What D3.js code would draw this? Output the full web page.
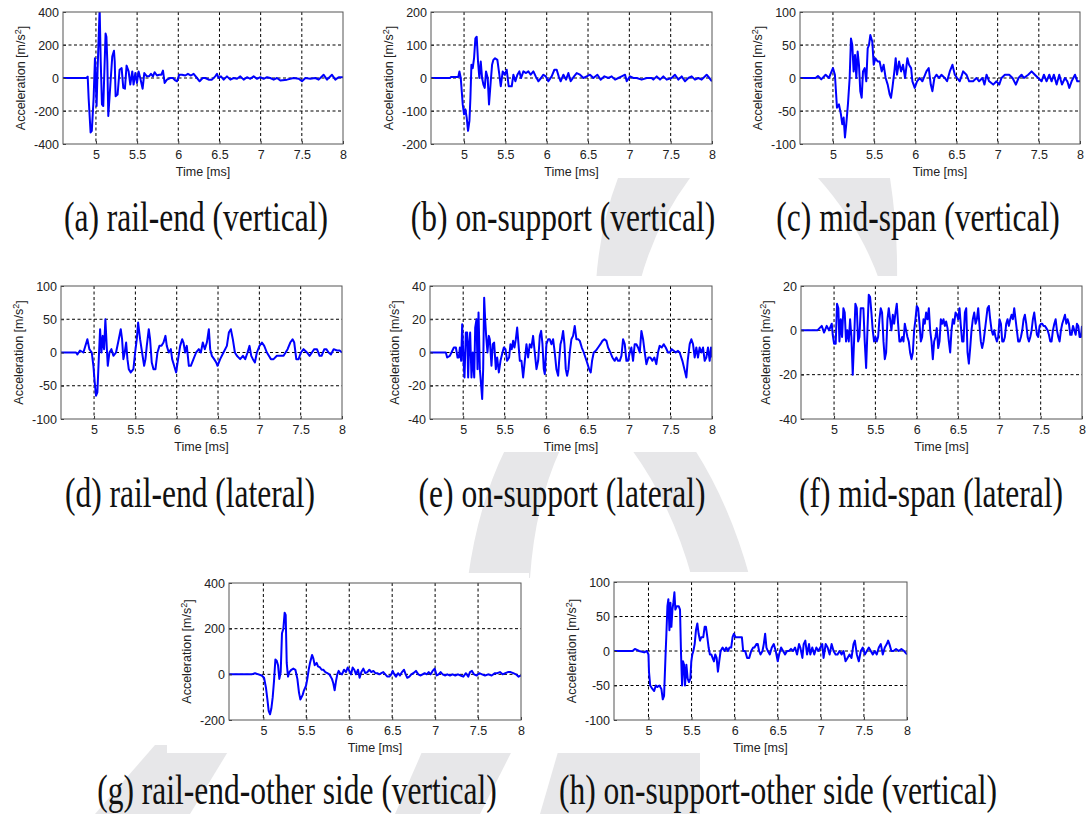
<!DOCTYPE html>
<html>
<head>
<meta charset="utf-8">
<script src="https://cdn.jsdelivr.net/npm/d3@7"></script>
<style>
  body { margin: 0; background: #fff; }
  svg { display: block; }
  .tick text { font-family: "Liberation Sans", Arial, sans-serif; font-size: 12.5px; fill: #222; }
</style>
</head>
<body>
<div id="fig"></div>
<script>
// ---- data (time in ms, acceleration in m/s^2) ----
var xDomain = [4.6, 8];
var xTicks = [5, 5.5, 6, 6.5, 7, 7.5, 8];

var captions = [
  "(a) rail-end (vertical)", "(b) on-support (vertical)", "(c) mid-span (vertical)",
  "(d) rail-end (lateral)", "(e) on-support (lateral)", "(f) mid-span (lateral)",
  "(g) rail-end-other side (vertical)", "(h) on-support-other side (vertical)"
];

var yDomains = [[-400, 400], [-200, 200], [-100, 100], [-100, 100], [-40, 40], [-40, 20], [-200, 400], [-100, 100]];
var yTickSets = [
  [-400, -200, 0, 200, 400], [-200, -100, 0, 100, 200], [-100, -50, 0, 50, 100],
  [-100, -50, 0, 50, 100], [-40, -20, 0, 20, 40], [-40, -20, 0, 20],
  [-200, 0, 200, 400], [-100, -50, 0, 50, 100]
];

var railEndV = [[4.6,0],[4.88,0],[4.9,8],[4.911,-120],[4.935,-330],[4.95,-320],[4.972,-120],[4.988,120],[4.998,-20],[5.008,-170],[5.02,50],[5.045,420],[5.058,100],[5.073,-160],[5.089,-170],[5.117,270],[5.127,250],[5.138,100],[5.15,-230],[5.174,-50],[5.198,130],[5.219,165],[5.228,100],[5.239,-110],[5.263,-100],[5.287,50],[5.312,60],[5.332,-60],[5.352,-65],[5.372,75],[5.397,40],[5.417,-40],[5.441,40],[5.457,-40],[5.478,30],[5.498,-30],[5.518,40],[5.538,0],[5.567,-65],[5.587,30],[5.619,10],[5.644,10],[5.668,25],[5.692,10],[5.713,35],[5.741,15],[5.769,20],[5.794,20],[5.814,45],[5.834,-30],[5.862,-10],[5.903,0],[5.935,0],[5.964,-15],[5.984,-20],[6.012,20],[6.045,20],[6.085,15],[6.117,25],[6.154,15],[6.186,25],[6.227,0],[6.259,-20],[6.296,0],[6.328,0],[6.368,-10],[6.409,-10],[6.449,10],[6.47,25],[6.49,0],[6.518,10],[6.551,-10],[6.591,10],[6.632,-10],[6.672,0],[6.713,-5],[6.753,10],[6.794,-10],[6.834,5],[6.875,-5],[6.915,10],[6.956,-5],[6.996,5],[7.036,-5],[7.077,5],[7.117,0],[7.158,-10],[7.198,0],[7.239,-15],[7.32,-10],[7.401,0],[7.462,-5],[7.502,-20],[7.543,0],[7.603,-5],[7.664,0],[7.704,-10],[7.765,20],[7.806,-10],[7.866,20],[7.907,-10],[7.947,5],[8.0,5]];

var onSupportV = [[4.6,0],[4.831,0],[4.84,3],[4.93,3],[4.944,20],[4.96,0],[4.984,-80],[5.0,-110],[5.016,-95],[5.032,-120],[5.048,-160],[5.065,-130],[5.077,-60],[5.089,40],[5.105,30],[5.121,60],[5.137,120],[5.153,125],[5.169,50],[5.185,0],[5.202,50],[5.218,0],[5.234,-20],[5.25,-30],[5.266,20],[5.286,0],[5.302,-80],[5.323,-10],[5.339,40],[5.355,55],[5.375,60],[5.403,55],[5.427,10],[5.444,-25],[5.468,20],[5.492,10],[5.516,25],[5.54,-25],[5.577,-25],[5.597,10],[5.621,-10],[5.645,10],[5.669,20],[5.69,0],[5.718,20],[5.75,15],[5.778,20],[5.806,10],[5.839,20],[5.867,5],[5.899,-10],[5.931,0],[5.96,10],[5.988,5],[6.02,-10],[6.06,5],[6.093,25],[6.121,25],[6.145,5],[6.169,-10],[6.202,10],[6.234,-5],[6.262,15],[6.29,-10],[6.331,5],[6.363,15],[6.403,10],[6.444,0],[6.484,5],[6.524,10],[6.565,0],[6.613,10],[6.653,-5],[6.698,5],[6.746,0],[6.786,5],[6.827,-5],[6.867,0],[6.907,5],[6.948,10],[6.968,-10],[7.008,5],[7.048,0],[7.089,0],[7.149,-5],[7.21,0],[7.27,0],[7.29,-5],[7.331,5],[7.371,-5],[7.411,5],[7.452,-5],[7.512,0],[7.552,10],[7.593,-5],[7.633,5],[7.673,-10],[7.714,0],[7.754,5],[7.794,-5],[7.835,0],[7.875,-5],[7.935,10],[7.968,0],[8.0,-10]];

var midSpanV = [[4.6,0],[4.789,0],[4.818,3],[4.858,-2],[4.911,5],[4.951,0],[5.0,15],[5.024,5],[5.049,-45],[5.073,-40],[5.097,-55],[5.113,-70],[5.13,-60],[5.146,-90],[5.162,-70],[5.182,-40],[5.203,0],[5.219,60],[5.235,50],[5.251,10],[5.268,35],[5.284,0],[5.3,40],[5.316,20],[5.332,-20],[5.349,-30],[5.365,10],[5.385,15],[5.405,-5],[5.422,45],[5.438,50],[5.454,65],[5.478,55],[5.495,20],[5.515,30],[5.543,25],[5.567,25],[5.592,10],[5.616,20],[5.64,0],[5.665,-10],[5.689,-25],[5.705,-30],[5.722,-15],[5.746,10],[5.762,30],[5.778,5],[5.803,25],[5.827,10],[5.851,20],[5.876,0],[5.904,30],[5.924,20],[5.949,15],[5.965,-5],[5.993,-15],[6.021,-5],[6.054,0],[6.086,-5],[6.135,10],[6.163,15],[6.188,-10],[6.208,-20],[6.232,0],[6.257,5],[6.289,0],[6.317,5],[6.358,0],[6.386,-5],[6.419,10],[6.451,20],[6.48,5],[6.508,0],[6.54,-5],[6.581,10],[6.621,5],[6.654,-5],[6.702,-5],[6.743,0],[6.775,-5],[6.816,0],[6.84,-10],[6.865,5],[6.897,-5],[6.946,-10],[6.986,-5],[7.019,-10],[7.047,0],[7.088,5],[7.14,5],[7.181,0],[7.221,-10],[7.254,0],[7.29,5],[7.319,0],[7.371,5],[7.412,10],[7.452,5],[7.493,0],[7.533,-5],[7.562,5],[7.594,-5],[7.627,5],[7.655,-5],[7.683,5],[7.716,-10],[7.748,5],[7.781,-10],[7.817,0],[7.846,-5],[7.87,-15],[7.898,-5],[7.939,5],[7.967,-5],[8.0,-5]];

var railEndL = [[4.6,0],[4.782,0],[4.798,-3],[4.83,3],[4.871,0],[4.919,20],[4.943,5],[4.972,0],[4.992,-20],[5.008,-45],[5.024,-65],[5.04,-60],[5.057,-10],[5.073,35],[5.089,0],[5.105,25],[5.121,5],[5.137,50],[5.153,10],[5.166,-20],[5.186,0],[5.21,5],[5.234,-5],[5.266,0],[5.299,20],[5.323,35],[5.339,20],[5.355,-10],[5.371,0],[5.388,15],[5.404,-10],[5.42,-25],[5.444,-30],[5.476,-25],[5.497,0],[5.517,20],[5.533,45],[5.557,20],[5.581,0],[5.606,-20],[5.622,-10],[5.638,10],[5.662,35],[5.678,20],[5.698,-15],[5.719,-25],[5.743,-25],[5.767,0],[5.791,10],[5.816,10],[5.84,15],[5.864,25],[5.88,10],[5.904,0],[5.929,5],[5.945,-10],[5.969,-20],[5.993,-30],[6.017,-10],[6.042,10],[6.066,20],[6.082,15],[6.102,0],[6.122,10],[6.147,-20],[6.171,-20],[6.203,-10],[6.235,0],[6.268,5],[6.292,0],[6.316,15],[6.34,5],[6.365,15],[6.389,35],[6.405,5],[6.425,-5],[6.453,-10],[6.478,-15],[6.494,-20],[6.526,-10],[6.566,0],[6.607,10],[6.631,30],[6.655,35],[6.679,20],[6.704,0],[6.728,-5],[6.768,-10],[6.801,-5],[6.829,-10],[6.857,0],[6.881,10],[6.902,-5],[6.922,-10],[6.946,-15],[6.97,0],[7.002,10],[7.031,15],[7.059,10],[7.091,0],[7.115,-5],[7.14,-10],[7.172,-10],[7.212,-5],[7.253,-5],[7.293,-5],[7.317,0],[7.342,5],[7.374,15],[7.402,20],[7.422,15],[7.447,-10],[7.475,-10],[7.503,0],[7.535,5],[7.576,0],[7.608,-5],[7.636,0],[7.664,5],[7.697,5],[7.729,-5],[7.753,-5],[7.786,5],[7.81,5],[7.838,0],[7.866,-3],[7.899,5],[7.939,3],[7.971,3],[8.0,0]];

var onSupportL = [[4.6,0],[4.791,0],[4.807,-3],[4.839,-2],[4.859,0],[4.888,3],[4.912,3],[4.932,-3],[4.948,-3],[4.96,3],[4.976,-5],[4.988,17],[5.004,-5],[5.016,-15],[5.032,12],[5.048,12],[5.06,-15],[5.072,5],[5.084,12],[5.1,-15],[5.116,0],[5.133,-15],[5.145,15],[5.161,20],[5.173,-10],[5.185,24],[5.201,-10],[5.217,-20],[5.229,-28],[5.241,-10],[5.253,33],[5.265,20],[5.277,10],[5.293,0],[5.309,10],[5.321,8],[5.341,-8],[5.357,5],[5.373,6],[5.394,-10],[5.41,-3],[5.43,-12],[5.45,-5],[5.474,0],[5.49,3],[5.51,2],[5.53,-5],[5.554,-3],[5.57,5],[5.586,2],[5.602,7],[5.618,3],[5.635,8],[5.651,15],[5.667,5],[5.683,-5],[5.703,-5],[5.723,-15],[5.743,-5],[5.763,5],[5.783,-3],[5.803,5],[5.823,3],[5.843,10],[5.863,0],[5.884,-10],[5.904,-5],[5.924,10],[5.94,13],[5.956,5],[5.972,-10],[5.984,-13],[6.004,5],[6.024,8],[6.044,8],[6.064,5],[6.084,8],[6.104,0],[6.124,-10],[6.145,-14],[6.157,-5],[6.173,5],[6.189,8],[6.205,13],[6.221,5],[6.237,-10],[6.253,-14],[6.269,-10],[6.285,0],[6.305,8],[6.325,10],[6.345,16],[6.365,8],[6.386,8],[6.406,7],[6.43,3],[6.454,0],[6.474,-3],[6.494,-6],[6.518,-10],[6.538,-12],[6.554,-5],[6.574,0],[6.598,1],[6.627,3],[6.655,5],[6.679,7],[6.703,8],[6.727,7],[6.747,3],[6.775,0],[6.799,-3],[6.827,-5],[6.847,-3],[6.867,-5],[6.888,-5],[6.908,-2],[6.928,8],[6.948,5],[6.968,-5],[6.988,-5],[7.008,0],[7.028,3],[7.048,-5],[7.068,5],[7.088,5],[7.108,3],[7.129,0],[7.149,13],[7.169,8],[7.189,0],[7.209,-7],[7.233,-3],[7.257,-3],[7.281,-5],[7.305,-3],[7.329,-7],[7.349,0],[7.369,4],[7.394,3],[7.418,5],[7.442,3],[7.47,0],[7.49,0],[7.514,2],[7.538,1],[7.562,0],[7.59,1],[7.61,0],[7.643,-5],[7.667,-10],[7.691,-15],[7.707,-5],[7.731,5],[7.751,8],[7.771,5],[7.791,-3],[7.811,3],[7.831,-3],[7.851,3],[7.871,0],[7.892,3],[7.912,-5],[7.932,-3],[7.952,3],[7.972,-5],[7.988,3],[8.0,-3]];

var midSpanL = [[4.6,0],[4.798,0],[4.851,2],[4.879,-1],[4.911,2],[4.939,0],[4.972,3],[4.984,-2],[5.0,-6],[5.02,-6],[5.036,12],[5.052,10],[5.065,-5],[5.081,5],[5.097,-3],[5.113,10],[5.129,8],[5.145,-5],[5.161,0],[5.178,-5],[5.194,5],[5.21,-3],[5.226,-20],[5.242,-5],[5.258,12],[5.275,10],[5.291,-5],[5.307,-3],[5.323,10],[5.339,10],[5.355,10],[5.371,-5],[5.388,-17],[5.404,0],[5.42,16],[5.436,15],[5.452,8],[5.468,0],[5.484,-5],[5.501,-3],[5.517,-5],[5.533,-3],[5.549,5],[5.565,10],[5.581,8],[5.598,-5],[5.614,-13],[5.63,-10],[5.646,5],[5.662,10],[5.678,5],[5.694,0],[5.711,7],[5.727,3],[5.743,8],[5.759,12],[5.775,3],[5.791,-5],[5.807,-5],[5.824,-3],[5.84,-5],[5.856,3],[5.872,0],[5.888,-3],[5.904,-5],[5.92,-10],[5.937,-13],[5.953,-10],[5.969,0],[5.985,5],[6.001,11],[6.017,10],[6.034,3],[6.05,-5],[6.066,-3],[6.082,5],[6.098,3],[6.114,8],[6.13,5],[6.147,10],[6.163,0],[6.179,-5],[6.195,-13],[6.211,-5],[6.227,-3],[6.243,1],[6.26,-8],[6.276,-5],[6.292,5],[6.308,3],[6.324,5],[6.34,2],[6.356,4],[6.373,1],[6.389,-5],[6.405,-10],[6.421,0],[6.437,5],[6.453,3],[6.47,8],[6.486,7],[6.502,5],[6.518,10],[6.534,2],[6.55,-5],[6.566,-5],[6.583,8],[6.599,10],[6.615,-10],[6.631,-15],[6.647,-8],[6.663,0],[6.679,5],[6.696,8],[6.712,3],[6.728,5],[6.744,10],[6.76,2],[6.776,-5],[6.792,-8],[6.809,-5],[6.825,0],[6.841,5],[6.857,10],[6.873,11],[6.889,5],[6.906,0],[6.922,-2],[6.938,0],[6.954,-3],[6.97,-5],[6.986,-3],[7.002,5],[7.019,3],[7.035,-5],[7.051,-5],[7.067,-3],[7.083,3],[7.099,5],[7.115,2],[7.132,5],[7.148,7],[7.164,5],[7.18,10],[7.196,5],[7.212,0],[7.228,-5],[7.245,-5],[7.261,-3],[7.277,0],[7.293,5],[7.309,7],[7.325,3],[7.342,-3],[7.358,-5],[7.374,-3],[7.39,0],[7.406,5],[7.422,8],[7.438,3],[7.455,-2],[7.471,-3],[7.487,2],[7.503,3],[7.519,3],[7.535,2],[7.551,2],[7.568,1],[7.584,0],[7.6,-2],[7.616,-5],[7.632,-5],[7.648,0],[7.665,3],[7.681,5],[7.697,0],[7.713,-3],[7.729,-5],[7.745,0],[7.761,3],[7.778,5],[7.794,7],[7.81,3],[7.826,5],[7.842,3],[7.858,-2],[7.874,-2],[7.891,2],[7.907,0],[7.923,-2],[7.939,3],[7.955,2],[7.971,-3],[7.987,-3],[8.0,2]];

var railEndOtherV = [[4.6,0],[4.864,0],[4.903,5],[4.942,0],[4.981,-5],[5.008,-15],[5.031,-60],[5.047,-110],[5.062,-160],[5.078,-175],[5.093,-150],[5.109,-100],[5.124,-30],[5.14,65],[5.155,60],[5.171,40],[5.186,-20],[5.202,10],[5.217,180],[5.233,200],[5.248,270],[5.26,260],[5.272,50],[5.287,-10],[5.303,10],[5.326,20],[5.349,25],[5.373,20],[5.396,-20],[5.415,-80],[5.431,-110],[5.458,-90],[5.473,-70],[5.497,-50],[5.512,-20],[5.528,20],[5.543,50],[5.567,85],[5.582,70],[5.598,40],[5.621,50],[5.636,35],[5.66,30],[5.679,20],[5.698,20],[5.722,10],[5.745,5],[5.768,0],[5.784,-10],[5.799,-20],[5.815,-40],[5.83,-70],[5.846,-30],[5.861,0],[5.877,15],[5.892,5],[5.916,0],[5.939,20],[5.962,10],[5.982,30],[6.001,15],[6.021,0],[6.04,30],[6.059,20],[6.079,0],[6.102,20],[6.121,-15],[6.141,10],[6.164,25],[6.187,5],[6.211,10],[6.234,20],[6.257,10],[6.281,15],[6.304,5],[6.327,5],[6.35,0],[6.374,5],[6.397,10],[6.42,0],[6.444,-10],[6.467,-10],[6.49,0],[6.506,15],[6.525,0],[6.544,-10],[6.568,5],[6.591,-5],[6.614,10],[6.638,20],[6.657,0],[6.676,-15],[6.7,-10],[6.723,0],[6.746,5],[6.777,15],[6.804,0],[6.832,-5],[6.855,0],[6.878,5],[6.901,0],[6.925,10],[6.948,0],[6.971,15],[6.995,25],[7.018,-5],[7.041,0],[7.064,10],[7.088,0],[7.119,-5],[7.142,0],[7.173,-5],[7.204,0],[7.235,-5],[7.266,0],[7.297,-5],[7.328,-10],[7.359,5],[7.386,-10],[7.406,10],[7.429,15],[7.452,0],[7.484,-5],[7.515,5],[7.546,0],[7.581,-5],[7.619,0],[7.658,-5],[7.697,5],[7.724,5],[7.755,10],[7.786,0],[7.817,5],[7.848,10],[7.879,10],[7.91,5],[7.941,0],[7.972,-10],[8.0,-5]];

var onSupportOtherV = [[4.6,0],[4.815,0],[4.842,3],[4.892,0],[4.95,-2],[4.981,0],[5.0,-5],[5.006,-30],[5.02,-50],[5.046,-55],[5.066,-58],[5.085,-50],[5.104,-52],[5.127,-50],[5.15,-55],[5.166,-70],[5.181,-65],[5.197,-10],[5.208,25],[5.22,65],[5.231,75],[5.243,30],[5.255,70],[5.266,35],[5.278,60],[5.289,70],[5.301,85],[5.312,60],[5.328,65],[5.351,65],[5.366,60],[5.378,-5],[5.39,-50],[5.401,-15],[5.413,-20],[5.424,-50],[5.44,-20],[5.455,-40],[5.47,-45],[5.486,-40],[5.497,-15],[5.509,-5],[5.521,0],[5.536,10],[5.551,30],[5.567,40],[5.582,25],[5.598,15],[5.613,20],[5.636,20],[5.652,35],[5.667,35],[5.683,20],[5.698,5],[5.713,-5],[5.729,-5],[5.744,-10],[5.76,-15],[5.775,-5],[5.791,-10],[5.806,-30],[5.821,-15],[5.837,0],[5.86,5],[5.883,0],[5.902,5],[5.922,0],[5.941,5],[5.96,5],[5.976,20],[5.991,25],[6.01,20],[6.03,20],[6.053,20],[6.068,20],[6.084,20],[6.099,0],[6.122,0],[6.145,-10],[6.169,-10],[6.192,0],[6.215,5],[6.23,5],[6.253,10],[6.269,10],[6.284,0],[6.3,-5],[6.323,0],[6.338,10],[6.354,25],[6.369,5],[6.385,0],[6.408,-5],[6.431,5],[6.454,10],[6.477,0],[6.5,-15],[6.516,-5],[6.539,5],[6.562,0],[6.585,-5],[6.608,0],[6.631,0],[6.654,3],[6.678,0],[6.701,5],[6.724,-5],[6.747,10],[6.762,5],[6.786,-10],[6.801,10],[6.82,15],[6.84,-5],[6.863,10],[6.878,-5],[6.901,5],[6.924,-5],[6.948,5],[6.971,0],[6.994,5],[7.017,10],[7.032,-10],[7.056,10],[7.079,5],[7.102,-5],[7.125,10],[7.148,0],[7.171,-5],[7.194,-5],[7.217,0],[7.241,-5],[7.264,0],[7.287,-15],[7.31,-10],[7.333,-5],[7.356,-10],[7.379,10],[7.395,15],[7.418,-5],[7.441,-15],[7.464,0],[7.487,5],[7.511,-5],[7.534,0],[7.557,5],[7.58,0],[7.603,-5],[7.626,0],[7.649,-5],[7.673,5],[7.696,10],[7.719,-5],[7.742,5],[7.765,10],[7.781,15],[7.796,10],[7.819,0],[7.842,0],[7.873,3],[7.904,0],[7.935,3],[7.966,0],[8.0,-5]];

var allSeries = [railEndV, onSupportV, midSpanV, railEndL, onSupportL, midSpanL, railEndOtherV, onSupportOtherV];

// ---- layout (pixel boxes of each axes, caption centre/baseline) ----
var W = 1087, H = 814;
var boxes = [
  {x0: 63,  x1: 343,  y0: 12,  y1: 144, cx: 196, cy: 231},
  {x0: 431, x1: 712,  y0: 12,  y1: 144, cx: 563, cy: 231},
  {x0: 800, x1: 1080, y0: 12,  y1: 144, cx: 918, cy: 231},
  {x0: 61,  x1: 342,  y0: 286, y1: 419, cx: 190, cy: 507},
  {x0: 430, x1: 712,  y0: 286, y1: 419, cx: 562, cy: 507},
  {x0: 801, x1: 1082, y0: 286, y1: 419, cx: 931, cy: 507},
  {x0: 229, x1: 521,  y0: 583, y1: 720, cx: 297, cy: 804},
  {x0: 614, x1: 907,  y0: 582, y1: 720, cx: 778, cy: 804}
];

// faint watermark strokes behind the figure (ring-like arcs)
var watermark = [
  "M618,178 L690,178 Q655,225 640,282 L596,282 Q600,225 618,178 Z",
  "M818,178 L890,178 Q898,230 897,282 L880,282 Q860,225 818,178 Z",
  "M505,450 L560,450 Q535,505 530,578 L468,578 Q478,505 505,450 Z",
  "M632,450 L695,450 Q730,505 750,578 L692,578 Q672,505 632,450 Z",
  "M155,745 L232,745 L190,814 L95,814 Z",
  "M425,745 L515,745 L480,814 L395,814 Z",
  "M560,745 L700,745 L700,814 L540,814 Z"
];

var svg = d3.select("#fig").append("svg")
    .attr("width", W)
    .attr("height", H);

svg.append("g").selectAll("path")
    .data(watermark)
    .enter().append("path")
    .attr("d", function(d) { return d; })
    .style("fill", "#e7e7e9");

var fmt = function(d) { return String(d); };

boxes.forEach(function(b, i) {
  var x = d3.scaleLinear().domain(xDomain).range([b.x0, b.x1]);
  var y = d3.scaleLinear().domain(yDomains[i]).range([b.y1, b.y0]);
  var g = svg.append("g").attr("class", "panel");

  // white figure background covering the watermark
  g.append("rect")
      .attr("x", b.x0 - 62).attr("y", b.y0 - 10)
      .attr("width", b.x1 - b.x0 + 70).attr("height", b.y1 - b.y0 + 43)
      .style("fill", "#fff");

  // dotted grid
  var yd = yDomains[i];
  g.selectAll("line.vgrid")
      .data(xTicks.filter(function(t) { return t > xDomain[0] && t < xDomain[1]; }))
      .enter().append("line")
      .attr("class", "vgrid")
      .attr("x1", function(d) { return x(d); }).attr("x2", function(d) { return x(d); })
      .attr("y1", b.y0).attr("y2", b.y1)
      .style("stroke", "#000").style("stroke-width", 1).style("stroke-dasharray", "3,2.5");

  g.selectAll("line.hgrid")
      .data(yTickSets[i].filter(function(t) { return t > yd[0] && t < yd[1]; }))
      .enter().append("line")
      .attr("class", "hgrid")
      .attr("y1", function(d) { return y(d); }).attr("y2", function(d) { return y(d); })
      .attr("x1", b.x0).attr("x2", b.x1)
      .style("stroke", "#000").style("stroke-width", 1).style("stroke-dasharray", "3,2.5");

  // signal
  var clipId = "clip" + i;
  svg.append("clipPath").attr("id", clipId)
    .append("rect")
      .attr("x", b.x0).attr("y", b.y0)
      .attr("width", b.x1 - b.x0).attr("height", b.y1 - b.y0);

  var line = d3.line()
      .x(function(d) { return x(d[0]); })
      .y(function(d) { return y(d[1]); });

  g.append("path")
      .datum(allSeries[i])
      .attr("clip-path", "url(#" + clipId + ")")
      .attr("d", line)
      .style("fill", "none")
      .style("stroke", "#0000ff")
      .style("stroke-width", 2)
      .style("stroke-linejoin", "round");

  // axes (ticks point inward, MATLAB style)
  var xAxis = g.append("g")
      .attr("transform", "translate(0," + b.y1 + ")")
      .call(d3.axisBottom(x).tickValues(xTicks).tickFormat(fmt).tickSizeInner(-3).tickSizeOuter(0).tickPadding(6));
  var yAxis = g.append("g")
      .attr("transform", "translate(" + b.x0 + ",0)")
      .call(d3.axisLeft(y).tickValues(yTickSets[i]).tickFormat(fmt).tickSizeInner(-3).tickSizeOuter(0).tickPadding(4));
  [xAxis, yAxis].forEach(function(a) {
    a.select(".domain").remove();
    a.selectAll(".tick line").style("stroke", "#333");
  });

  g.append("rect")
      .attr("x", b.x0).attr("y", b.y0)
      .attr("width", b.x1 - b.x0).attr("height", b.y1 - b.y0)
      .style("fill", "none").style("stroke", "#555").style("stroke-width", 1);

  // axis labels
  g.append("text")
      .attr("x", (b.x0 + b.x1) / 2)
      .attr("y", b.y1 + 32)
      .attr("text-anchor", "middle")
      .style("font-family", "Liberation Sans, Arial, sans-serif")
      .style("font-size", "12.5px")
      .style("fill", "#222")
      .text("Time [ms]");

  var maxW = 0;
  yAxis.selectAll(".tick text").each(function() {
    maxW = Math.max(maxW, this.getBBox().width);
  });
  var lx = b.x0 - 4 - maxW - 13;
  var yl = g.append("text")
      .attr("transform", "translate(" + lx + "," + ((b.y0 + b.y1) / 2) + ") rotate(-90)")
      .attr("text-anchor", "middle")
      .attr("dy", "0.35em")
      .style("font-family", "Liberation Sans, Arial, sans-serif")
      .style("font-size", "12.5px")
      .style("fill", "#222");
  yl.append("tspan").text("Acceleration [m/s");
  yl.append("tspan").attr("dy", "-0.45em").style("font-size", "9px").text("2");
  yl.append("tspan").attr("dy", "0.45em").text("]");

  // caption
  svg.append("text")
      .attr("transform", "translate(" + b.cx + "," + b.cy + ") scale(1,1.35)")
      .attr("text-anchor", "middle")
      .style("font-family", "Liberation Serif, Times New Roman, serif")
      .style("font-size", "31.5px")
      .style("fill", "#111")
      .text(captions[i]);
});
</script>
</body>
</html>
